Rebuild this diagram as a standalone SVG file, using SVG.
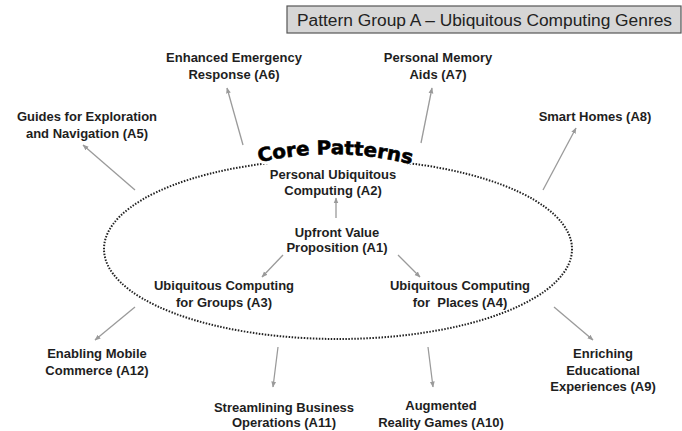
<svg xmlns="http://www.w3.org/2000/svg" width="682" height="431" viewBox="0 0 682 431">
<style>
.t{font-family:"Liberation Sans",Arial,sans-serif;font-weight:bold;font-size:13px;fill:#1e1e1e;text-anchor:middle}
.a{stroke:#9a9a9a;stroke-width:1.3;fill:none;marker-end:url(#ah)}
</style>
<defs>
<marker id="ah" viewBox="0 0 10 10" refX="9" refY="5" markerWidth="6" markerHeight="6" orient="auto" markerUnits="userSpaceOnUse">
<path d="M0,1 L10,5 L0,9 z" fill="#9a9a9a"/>
</marker>
<path id="arc" d="M 256 163 Q 336 144 418 166"/>
</defs>
<rect width="682" height="431" fill="#fff"/>
<g id="title">
<rect x="287" y="6" width="394" height="27" fill="#d6d6d6" stroke="#555" stroke-width="1.2"/>
<text x="297" y="26" font-family="Liberation Sans,Arial,sans-serif" font-size="16" fill="#222" textLength="375" lengthAdjust="spacingAndGlyphs">Pattern Group A – Ubiquitous Computing Genres</text>
</g>
<g id="core">
<ellipse cx="338" cy="249" rx="234" ry="90" fill="none" stroke="#222" stroke-width="2" stroke-dasharray="1.5 1.5"/>
<rect x="262" y="146" width="150" height="18" fill="#fff"/>
<text font-family="'DejaVu Sans',sans-serif" font-weight="bold" font-size="19" fill="#000" stroke="#000" stroke-width="0.6"><textPath href="#arc" startOffset="3" textLength="154" lengthAdjust="spacingAndGlyphs">Core Patterns</textPath></text>
</g>
<g id="connectors">
<line class="a" x1="336" y1="218" x2="336" y2="198"/>
<line class="a" x1="283" y1="255" x2="262" y2="277"/>
<line class="a" x1="398" y1="255" x2="420" y2="277"/>
<line class="a" x1="135" y1="190" x2="83" y2="145"/>
<line class="a" x1="243" y1="145" x2="227" y2="88"/>
<line class="a" x1="421" y1="143" x2="432" y2="88"/>
<line class="a" x1="543" y1="190" x2="576" y2="128"/>
<line class="a" x1="135" y1="307" x2="95" y2="340"/>
<line class="a" x1="278" y1="347" x2="273" y2="387"/>
<line class="a" x1="428" y1="347" x2="433" y2="387"/>
<line class="a" x1="554" y1="307" x2="593" y2="340"/>
</g>
<g id="A1"><text class="t" x="337" y="237">Upfront Value</text><text class="t" x="337" y="252">Proposition (A1)</text></g>
<g id="A2"><text class="t" x="333" y="179">Personal Ubiquitous</text><text class="t" x="333" y="195">Computing (A2)</text></g>
<g id="A3"><text class="t" x="224" y="290">Ubiquitous Computing</text><text class="t" x="224" y="307">for Groups (A3)</text></g>
<g id="A4"><text class="t" x="460" y="290">Ubiquitous Computing</text><text class="t" x="460" y="307" xml:space="preserve">for  Places (A4)</text></g>
<g id="A5"><text class="t" x="87" y="121">Guides for Exploration</text><text class="t" x="87" y="138">and Navigation (A5)</text></g>
<g id="A6"><text class="t" x="234" y="62">Enhanced Emergency</text><text class="t" x="234" y="79">Response (A6)</text></g>
<g id="A7"><text class="t" x="438" y="62">Personal Memory</text><text class="t" x="438" y="79">Aids (A7)</text></g>
<g id="A8"><text class="t" x="595" y="121">Smart Homes (A8)</text></g>
<g id="A9"><text class="t" x="603" y="358">Enriching</text><text class="t" x="603" y="375">Educational</text><text class="t" x="603" y="391">Experiences (A9)</text></g>
<g id="A10"><text class="t" x="441" y="410">Augmented</text><text class="t" x="441" y="427">Reality Games (A10)</text></g>
<g id="A11"><text class="t" x="284" y="412">Streamlining Business</text><text class="t" x="284" y="427">Operations (A11)</text></g>
<g id="A12"><text class="t" x="97" y="358">Enabling Mobile</text><text class="t" x="97" y="375">Commerce (A12)</text></g>
</svg>
